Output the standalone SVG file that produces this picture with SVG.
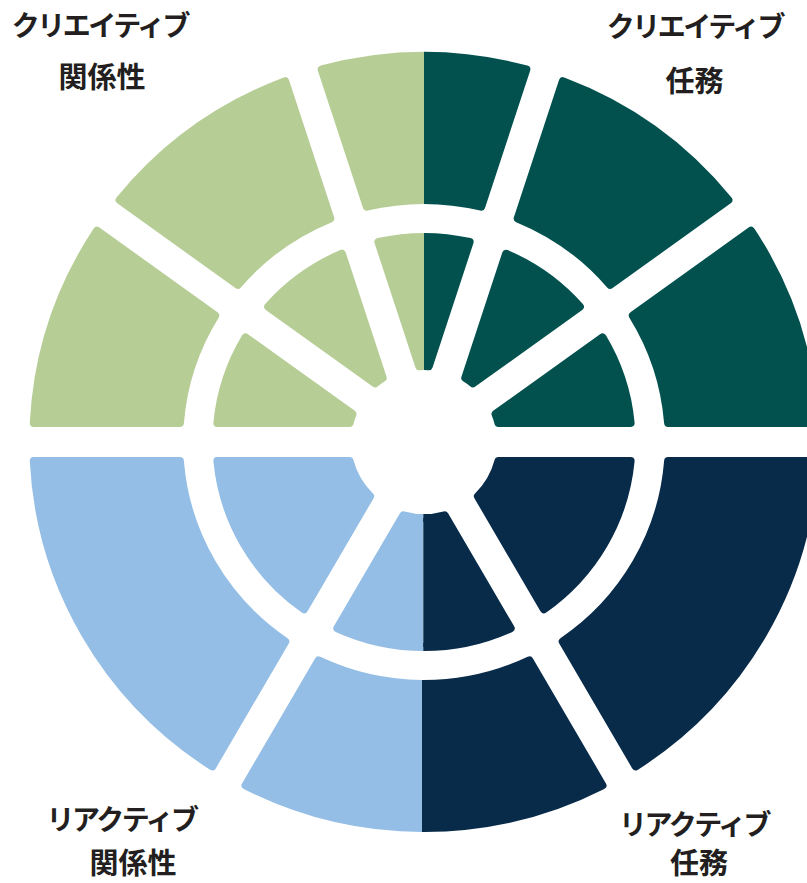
<svg xmlns="http://www.w3.org/2000/svg" xmlns:xlink="http://www.w3.org/1999/xlink" width="807" height="883" viewBox="0 0 807 883">
<style>
.seg{stroke-width:8;stroke-linejoin:round}
.green{fill:#b7cd96;stroke:#b7cd96}
.teal{fill:#02514f;stroke:#02514f}
.lblue{fill:#94bee5;stroke:#94bee5}
.navy{fill:#082b4a;stroke:#082b4a}
.lbl{font-family:"Noto Sans CJK JP","Noto Sans CJK SC",sans-serif;font-weight:700;fill:#231f20;text-anchor:middle}
.kana{font-size:28px;letter-spacing:-2.5px}
.kanji{font-size:29px}
</style>
<defs>
<path id="top-outer" d="M-56.48,-235.31 L-101.07,-372.53 A386,386 0 0 1 101.07,-372.53 L56.48,-235.31 A242,242 0 0 0 -56.48,-235.31Z"/>
<path id="top-inner" d="M-4.67,-75.86 L-45.01,-200 A205,205 0 0 1 45.01,-200 L4.67,-75.86 A76,76 0 0 0 -4.67,-75.86Z"/>
<path id="bot-outer" d="M104.17,218.43 L176.31,343.38 A386,386 0 0 1 -176.31,343.38 L-104.17,218.43 A242,242 0 0 0 104.17,218.43Z"/>
<path id="bot-inner" d="M20.34,73.23 L85.61,186.27 A205,205 0 0 1 -85.61,186.27 L-20.34,73.23 A76,76 0 0 0 20.34,73.23Z"/>
<clipPath id="clipUL"><rect x="-500" y="-500" width="500" height="500"/></clipPath>
<clipPath id="clipUR"><rect x="0" y="-500" width="500" height="500"/></clipPath>
<clipPath id="clipLLo"><rect x="-500" y="0" width="498" height="500"/></clipPath>
<clipPath id="clipLRo"><rect x="-2" y="0" width="502" height="500"/></clipPath>
<clipPath id="clipLLi"><rect x="-500" y="0" width="499.3" height="500"/></clipPath>
<clipPath id="clipLRi"><rect x="-0.7" y="0" width="500.7" height="500"/></clipPath>
</defs>
<g id="chart" transform="translate(424,442) scale(1.012,1)">
<g id="creative-relation">
<path class="seg green" d="M-241.25,-19 L-385.53,-19 A386,386 0 0 1 -323.07,-211.24 L-206.35,-126.43 A242,242 0 0 0 -241.25,-19Z"/>
<path class="seg green" d="M-184.01,-157.17 L-300.73,-241.98 A386,386 0 0 1 -137.21,-360.79 L-92.62,-223.57 A242,242 0 0 0 -184.01,-157.17Z"/>
<use xlink:href="#top-outer" class="seg green" clip-path="url(#clipUL)"/>
<path class="seg green" d="M-73.59,-19 L-204.12,-19 A205,205 0 0 1 -176.31,-104.61 L-70.71,-27.89 A76,76 0 0 0 -73.59,-19Z"/>
<path class="seg green" d="M-48.37,-58.63 L-153.97,-135.35 A205,205 0 0 1 -81.15,-188.26 L-40.81,-64.12 A76,76 0 0 0 -48.37,-58.63Z"/>
<use xlink:href="#top-inner" class="seg green" clip-path="url(#clipUL)"/>
</g>
<g id="creative-task">
<use xlink:href="#top-outer" class="seg teal" clip-path="url(#clipUR)"/>
<path class="seg teal" d="M92.62,-223.57 L137.21,-360.79 A386,386 0 0 1 300.73,-241.98 L184.01,-157.17 A242,242 0 0 0 92.62,-223.57Z"/>
<path class="seg teal" d="M206.35,-126.43 L323.07,-211.24 A386,386 0 0 1 385.53,-19 L241.25,-19 A242,242 0 0 0 206.35,-126.43Z"/>
<use xlink:href="#top-inner" class="seg teal" clip-path="url(#clipUR)"/>
<path class="seg teal" d="M40.81,-64.12 L81.15,-188.26 A205,205 0 0 1 153.97,-135.35 L48.37,-58.63 A76,76 0 0 0 40.81,-64.12Z"/>
<path class="seg teal" d="M70.71,-27.89 L176.31,-104.61 A205,205 0 0 1 204.12,-19 L73.59,-19 A76,76 0 0 0 70.71,-27.89Z"/>
</g>
<g id="reactive-relation">
<path class="seg lblue" d="M-137.08,199.43 L-209.22,324.38 A386,386 0 0 1 -385.53,19 L-241.25,19 A242,242 0 0 0 -137.08,199.43Z"/>
<use xlink:href="#bot-outer" class="seg lblue" clip-path="url(#clipLLo)"/>
<path class="seg lblue" d="M-53.25,54.23 L-118.52,167.27 A205,205 0 0 1 -204.12,19 L-73.59,19 A76,76 0 0 0 -53.25,54.23Z"/>
<use xlink:href="#bot-inner" class="seg lblue" clip-path="url(#clipLLi)"/>
</g>
<g id="reactive-task">
<path class="seg navy" d="M241.25,19 L385.53,19 A386,386 0 0 1 209.22,324.38 L137.08,199.43 A242,242 0 0 0 241.25,19Z"/>
<use xlink:href="#bot-outer" class="seg navy" clip-path="url(#clipLRo)"/>
<path class="seg navy" d="M73.59,19 L204.12,19 A205,205 0 0 1 118.52,167.27 L53.25,54.23 A76,76 0 0 0 73.59,19Z"/>
<use xlink:href="#bot-inner" class="seg navy" clip-path="url(#clipLRi)"/>
</g>
</g>
<g id="label-creative-relation" class="lbl">
<text class="kana" x="100" y="36">クリエイティブ</text>
<text class="kanji" x="102" y="88">関係性</text>
</g>
<g id="label-creative-task" class="lbl">
<text class="kana" x="695" y="37">クリエイティブ</text>
<text class="kanji" x="694.5" y="92">任務</text>
</g>
<g id="label-reactive-relation" class="lbl">
<text class="kana" x="121.5" y="830">リアクティブ</text>
<text class="kanji" x="133" y="874">関係性</text>
</g>
<g id="label-reactive-task" class="lbl">
<text class="kana" x="694" y="835">リアクティブ</text>
<text class="kanji" x="699" y="874">任務</text>
</g>
</svg>
